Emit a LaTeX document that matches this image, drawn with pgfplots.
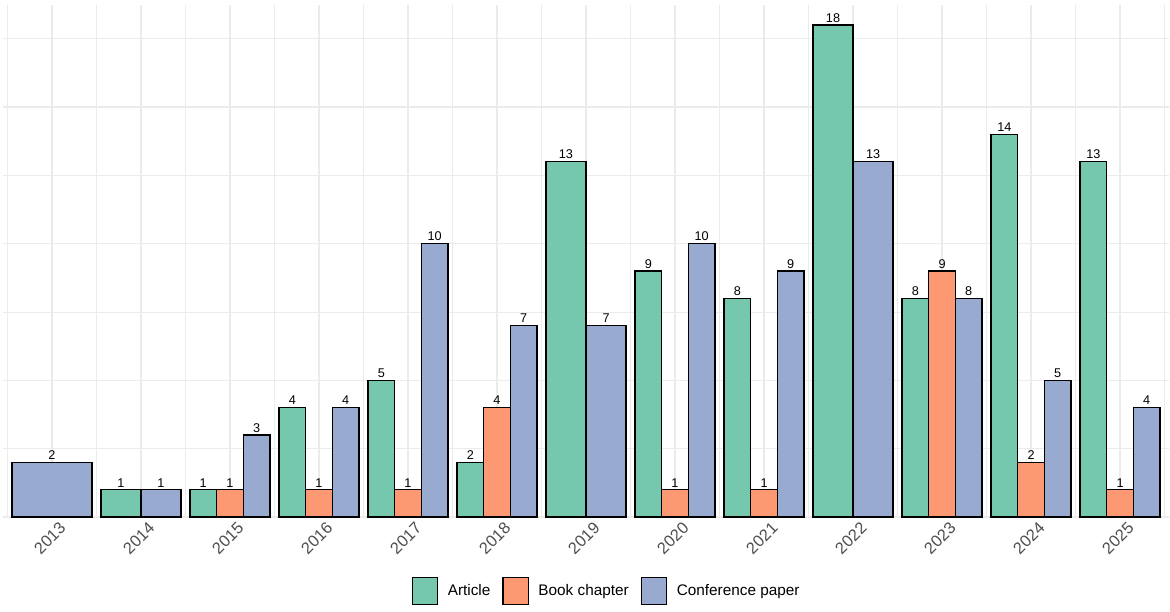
\documentclass[border=0pt]{standalone}
\usepackage{fontspec}
\setmainfont{Liberation Sans}
\usepackage{pgfplots}
\pgfplotsset{compat=1.18}

\definecolor{art}{HTML}{75C8AE}
\definecolor{book}{HTML}{FC9872}
\definecolor{conf}{HTML}{98AAD0}
\definecolor{gridc}{HTML}{EBEBEB}
\definecolor{tickc}{HTML}{4D4D4D}

% one bar series, placed by hand: x = year index + dodge offset
\pgfplotsset{
  pubbar/.style={
    ybar, bar shift=0pt, bar width=#1,
    draw=black, line width=1pt,
    nodes near coords,
    every node near coord/.append style={font=\fontsize{9.5}{11}\selectfont, text=black, inner sep=1.5pt},
    legend image code/.code={\draw[##1,/tikz/.cd,draw=black,line width=1pt] (0pt,-10pt) rectangle (19pt,10pt);},
  },
}

\begin{document}
\begin{tikzpicture}
\begin{axis}[
    scale only axis,
    width=874.5pt, height=384pt,
    xmin=-0.55, xmax=12.55,
    ymin=0, ymax=18.73,
    axis line style={draw=none},
    tick style={draw=none},
    xtick={0,...,12},
    xticklabels={2013,2014,2015,2016,2017,2018,2019,2020,2021,2022,2023,2024,2025},
    minor xtick={-0.5,0.5,...,12.5},
    ytick={0,5,10,15},
    minor ytick={2.5,7.5,12.5,17.5},
    yticklabels={},
    grid=both,
    major grid style={gridc, line width=0.9pt},
    minor grid style={gridc, line width=0.6pt},
    xticklabel style={rotate=45, anchor=north east, inner sep=0pt,
        xshift=1.5pt, yshift=-5.5pt,
        font=\fontsize{12.3}{13}\selectfont, text=tickc},
    /pgf/number format/assume math mode=true,
    legend columns=3,
    legend style={at={(0.518,-0.1445)}, anchor=center, draw=none, fill=none,
        font=\fontsize{11.5}{13}\selectfont,
        /tikz/every odd column/.append style={column sep=5pt},
        /tikz/every even column/.append style={column sep=7pt}},
]
% Article, three-way dodge
\addplot[pubbar=0.3, fill=art] coordinates {
  (1.7,1) (2.7,4) (3.7,5) (4.7,2) (6.7,9) (7.7,8) (9.7,8) (10.7,14) (11.7,13) };
% Book chapter
\addplot[pubbar=0.3, fill=book] coordinates {
  (2,1) (3,1) (4,1) (5,4) (7,1) (8,1) (10,9) (11,2) (12,1) };
% Conference paper, three-way dodge
\addplot[pubbar=0.3, fill=conf] coordinates {
  (2.3,3) (3.3,4) (4.3,10) (5.3,7) (7.3,10) (8.3,9) (10.3,8) (11.3,5) (12.3,4) };
\legend{Article, Book chapter, Conference paper}
% two-way dodge years (2014, 2019, 2022)
\addplot[pubbar=0.45, fill=art, forget plot] coordinates {
  (0.775,1) (5.775,13) (8.775,18) };
\addplot[pubbar=0.45, fill=conf, forget plot] coordinates {
  (1.225,1) (6.225,7) (9.225,13) };
% 2013: conference paper only
\addplot[pubbar=0.9, fill=conf, forget plot] coordinates { (0,2) };
\coordinate (sw) at (rel axis cs:0,0);
\end{axis}
\pgfresetboundingbox
\path[use as bounding box] (sw) ++(-2.25pt,-70.5pt) rectangle ++(877.5pt,458.25pt);
\end{tikzpicture}
\end{document}
